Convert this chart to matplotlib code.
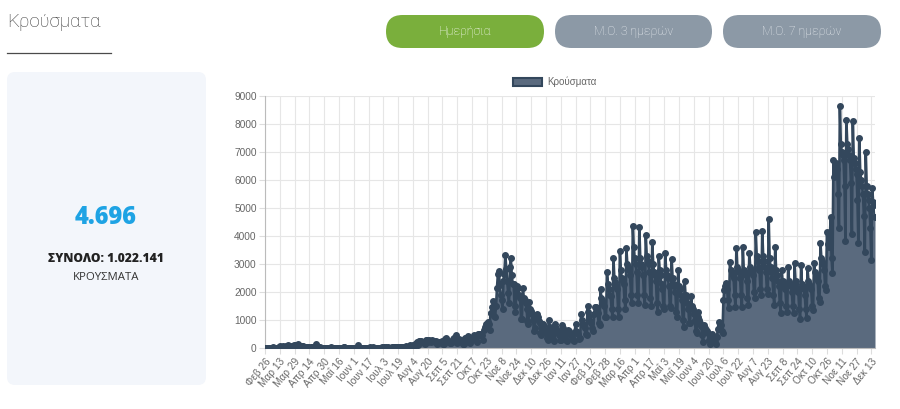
import matplotlib
matplotlib.use('Agg')
import matplotlib.pyplot as plt
from matplotlib.patches import FancyBboxPatch, Patch
import numpy as np

# ---------------- data ----------------
cases_2020 = [
    1, 2, 0, 0, 1, 0, 0,
    2, 2, 22, 14, 7, 11, 16,
    10, 18, 73, 38, 38, 21, 60,
    31, 31, 77, 53, 94, 71, 48,
    48, 73, 71, 95, 74, 60, 98,
    56, 129, 52, 53, 62, 60, 77,
    53, 36, 20, 25, 22, 19, 5,
    11, 24, 19, 22, 3, 10, 156,
    77, 25, 14, 6, 26, 9, 4,
    8, 14, 16, 8, 10, 5, 2,
    10, 20, 11, 9, 4, 9, 5,
    3, 15, 7, 13, 10, 9, 3,
    7, 21, 18, 3, 4, 0, 10,
    9, 3, 2, 17, 2, 3, 11,
    10, 6, 10, 97, 5, 5, 15,
    6, 9, 4, 10, 5, 6, 8,
    5, 13, 24, 12, 15, 20, 12,
    16, 11, 8, 6, 4, 8, 14,
    14, 18, 15, 27, 14, 33, 14,
    18, 17, 15, 12, 30, 10, 31,
    25, 19, 21, 23, 38, 16, 49,
    26, 42, 33, 34, 20, 21, 75,
    44, 34, 45, 110, 75, 38, 110,
    80, 153, 124, 203, 121, 150, 262,
    262, 254, 230, 217, 168, 159, 269,
    269, 225, 284, 236, 250, 201, 293,
    256, 250, 202, 244, 139, 168, 223,
    228, 230, 183, 248, 126, 150, 311,
    372, 273, 256, 230, 162, 183, 224,
    336, 366, 348, 306, 453, 187, 261,
    316, 256, 278, 229, 158, 139, 368,
    311, 343, 302, 416, 230, 191, 340,
    366, 334, 460, 322, 274, 213, 489,
    488, 456, 509, 477, 452, 294, 641,
    760, 865, 840, 935, 865, 655, 1260,
    1260, 1480, 1690, 1150, 1120, 1500, 2140,
    2650, 2750, 2250, 1910, 1710, 1380, 2380,
    2650, 3316, 2835, 2400, 1980, 1600, 2900,
    3209, 2600, 2300, 2300, 1500, 1300, 2150,
    2200, 2150, 1900, 1800, 1050, 1050, 2160,
    1800, 1700, 1600, 1400, 950, 870, 1635,
    1400, 1330, 1200, 1000, 620, 700, 1165,
    1200, 1100, 950, 880, 520, 460, 870,
    870, 800, 600, 550, 360, 300, 990,
    760, 700,
]

cases_2021 = [
    560, 460, 330, 262, 870,
    700, 600, 520, 450, 300, 280, 810,
    720, 620, 500, 460, 300, 250, 640,
    600, 520, 480, 410, 300, 240, 560,
    850, 600, 560, 500, 320, 350, 1220,
    1000, 850, 790, 700, 500, 450, 1500,
    1300, 1100, 950, 900, 700, 600, 1200,
    1450, 1460, 1300, 1250, 900, 820, 2100,
    1800, 1700, 1600, 1500, 1100, 1100, 2700,
    2300, 2100, 1900, 1850, 1400, 1100, 3200,
    2500, 2350, 2200, 2100, 1400, 1100, 3480,
    2800, 2500, 2400, 2300, 1700, 1400, 3560,
    3000, 2900, 2800, 2600, 1900, 1600, 4340,
    3600, 3200, 3000, 2700, 1900, 1600, 4310,
    3200, 3000, 2900, 2600, 1900, 1530, 4040,
    3300, 3100, 3000, 2700, 1800, 1500, 3800,
    3000, 2700, 2600, 2400, 1600, 1300, 3300,
    2800, 2600, 2300, 2100, 1500, 1400, 3380,
    2800, 2600, 2500, 2200, 1500, 1420, 3180,
    2500, 2300, 2200, 2000, 1300, 1100, 2790,
    2200, 2100, 1900, 1700, 1000, 760, 2400,
    1900, 1800, 1600, 1400, 900, 880, 1860,
    1500, 1400, 1200, 1000, 600, 520, 1300,
    1100, 1000, 900, 800, 450, 200, 820,
    700, 650, 600, 550, 300, 130, 460,
    450, 500, 420, 380, 220, 150, 400,
    680, 940, 780, 820, 600, 520, 1710,
    2070, 2200, 2310, 2100, 1700, 1420, 3080,
    2800, 2700, 2600, 2500, 1900, 1480, 3560,
    2900, 2800, 2700, 2500, 1900, 1480, 3600,
    2800, 2700, 2600, 2400, 1800, 1540, 3400,
    2900, 2800, 2700, 2600, 2000, 1770, 4150,
    3300, 3100, 2900, 2800, 2100, 1890, 4190,
    3300, 3100, 2900, 2700, 2100, 1930, 4600,
    3200, 2900, 2700, 2500, 1900, 1540, 3620,
    2800, 2600, 2400, 2200, 1600, 1240, 2790,
    2400, 2300, 2200, 2100, 1500, 1300, 2900,
    2400, 2300, 2200, 2000, 1500, 1240, 3020,
    2400, 2200, 2100, 2000, 1400, 1020, 2960,
    2300, 2200, 2100, 1900, 1400, 1080, 2850,
    2400, 2300, 2200, 2100, 1500, 1360, 3050,
    2700, 2600, 2500, 2400, 1800, 1650, 3740,
    3200, 3100, 3000, 2800, 2200, 2070, 4150,
    3700, 3600, 3800, 4690, 3200, 2670, 6700,
    6100, 6500, 6600, 6400, 5500, 4270, 8640,
    7300, 7000, 6900, 6700, 5800, 3830, 8140,
    7300, 7100, 6900, 6700, 5900, 4070, 8120,
    6800, 6600, 6400, 6200, 5300, 3740, 7490,
    6300, 6000, 5800, 5500, 4700, 3440, 7010,
    5800, 5500, 5300, 5000, 4300, 3140, 5730,
    5200, 5100, 4696,
]

tick_labels = ["Φεβ 26", "Μαρ 13", "Μαρ 29", "Απρ 14", "Απρ 30", "Μαΐ 16",
               "Ιουν 1", "Ιουν 17", "Ιουλ 3", "Ιουλ 19", "Αυγ 4", "Αυγ 20",
               "Σεπ 5", "Σεπ 21", "Οκτ 7", "Οκτ 23", "Νοε 8", "Νοε 24",
               "Δεκ 10", "Δεκ 26", "Ιαν 11", "Ιαν 27", "Φεβ 12", "Φεβ 28",
               "Μαρ 16", "Απρ 1", "Απρ 17", "Μαΐ 3", "Μαΐ 19", "Ιουν 4",
               "Ιουν 20", "Ιουλ 6", "Ιουλ 22", "Αυγ 7", "Αυγ 23", "Σεπ 8",
               "Σεπ 24", "Οκτ 10", "Οκτ 26", "Νοε 11", "Νοε 27", "Δεκ 13"]
tick_step = 16
y_ticks = [0, 1000, 2000, 3000, 4000, 5000, 6000, 7000, 8000, 9000]

page_title = "Κρούσματα"
series_name = "Κρούσματα"
button_labels = ["Ημερήσια", "Μ.Ο. 3 ημερών", "Μ.Ο. 7 ημερών"]
latest_value = "4.696"
total_text = "ΣΥΝΟΛΟ: 1.022.141"
unit_text = "ΚΡΟΥΣΜΑΤΑ"

# ---------------- figure ----------------
cases = np.array(cases_2020 + cases_2021)
xs = np.arange(len(cases))

W, H = 900, 409
fig = plt.figure(figsize=(W / 100, H / 100), dpi=100)
fig.patch.set_facecolor('white')

bg = fig.add_axes([0, 0, 1, 1])
bg.set_xlim(0, W)
bg.set_ylim(H, 0)
bg.axis('off')

# title and underline
bg.text(7, 22, page_title, fontsize=13.5, family='Roboto', weight='light',
        color='#3a3a3a', va='center', ha='left')
bg.plot([7, 111], [53, 53], color='#4a4a4a', lw=0.9)

# buttons
btn_geom = [(386, 544, '#7aaf3c', '#ffffff'),
            (555, 712, '#8c99a6', '#e9edf1'),
            (723, 881, '#8c99a6', '#e9edf1')]
for label, (x0, x1, fc, tc) in zip(button_labels, btn_geom):
    bg.add_patch(FancyBboxPatch((x0, 15), x1 - x0, 33,
                                boxstyle='round,pad=0,rounding_size=16.5',
                                fc=fc, ec='none'))
    bg.text((x0 + x1) / 2, 31.5, label, fontsize=8.8, family='Roboto',
            weight='light', color=tc, ha='center', va='center')

# left panel
bg.add_patch(FancyBboxPatch((7, 72), 199, 313,
                            boxstyle='round,pad=0,rounding_size=8',
                            fc='#f3f6fb', ec='none'))
bg.text(106, 217, latest_value, fontsize=17, family='Open Sans', weight='heavy',
        color='#1ea3e4', ha='center', va='center')
bg.text(106, 259, total_text, fontsize=8.7, family='Open Sans', weight='heavy',
        color='#222222', ha='center', va='center')
bg.text(106, 277, unit_text, fontsize=8.2, family='Open Sans',
        color='#333333', ha='center', va='center')

# chart axes
left_px, right_px, top_px, bottom_px = 265, 875, 96, 348
ax = fig.add_axes([left_px / W, 1 - bottom_px / H,
                   (right_px - left_px) / W, (bottom_px - top_px) / H])
ax.set_facecolor('none')

fill_col = '#5a6a7e'
line_col = '#33475c'
ax.fill_between(xs, cases, 0, color=fill_col, lw=0, zorder=2)
ax.plot(xs, cases, color=line_col, lw=1.9, marker='o', ms=4.0,
        mfc=line_col, mec=line_col, zorder=3)

ax.set_xlim(0, len(cases) - 1)
ax.set_ylim(0, 9000)
ax.set_yticks(y_ticks)
ax.set_yticklabels([str(v) for v in y_ticks])
tick_pos = list(range(0, tick_step * len(tick_labels), tick_step))
ax.set_xticks(tick_pos)
ax.set_xticklabels(tick_labels, rotation=50, ha='right', va='top',
                   rotation_mode='anchor')

for lab in ax.get_xticklabels() + ax.get_yticklabels():
    lab.set_fontfamily('Liberation Sans')
    lab.set_fontsize(7.3)
    lab.set_color('#666666')

ax.grid(True, color='#e6e6e6', lw=0.8, zorder=0)
ax.set_axisbelow(True)
ax.tick_params(axis='both', length=4, color='#dddddd', pad=2)
for s in ['top', 'right']:
    ax.spines[s].set_visible(False)
for s in ['left', 'bottom']:
    ax.spines[s].set_color('#bbbbbb')
    ax.spines[s].set_linewidth(0.8)

handle = Patch(facecolor=fill_col, edgecolor=line_col, lw=1.5, label=series_name)
fig.legend(handles=[handle], loc='center', bbox_to_anchor=(555 / W, 1 - 82 / H),
           frameon=False, handlelength=3.0, handleheight=0.9,
           handletextpad=0.5, prop={'family': 'Liberation Sans', 'size': 7})
for t in fig.legends[0].get_texts():
    t.set_color('#666666')

fig.savefig('out.png', dpi=100, facecolor='white')
